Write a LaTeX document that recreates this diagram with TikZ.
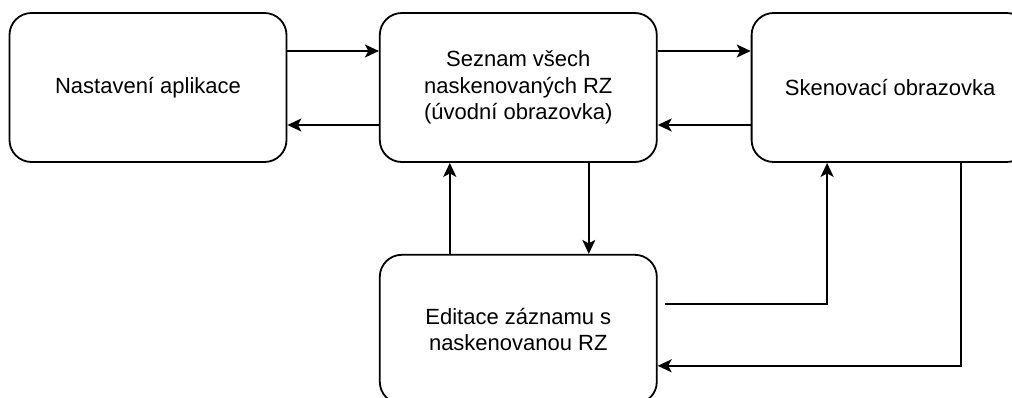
\documentclass[tikz,border=0pt]{standalone}
\usepackage{fontspec}
\setmainfont{Liberation Sans}
\usepackage{xcolor}
\usepackage{tikz}
\usetikzlibrary{arrows.meta,positioning}
\definecolor{Ink}{HTML}{000000}
\tikzset{
  screen/.style={rounded corners=22pt,draw=Ink,fill=white,line width=1.8pt,minimum width=277pt,minimum height=149pt,inner sep=0pt,align=center,font=\fontsize{22}{26.4}\selectfont},
  arrow/.style={-{Stealth[length=14pt,width=13pt,inset=3.5pt]},line width=1.8pt,draw=Ink}
}

\begin{document}
\begin{tikzpicture}[x=1pt,y=1pt,node distance=91pt]
  \clip (0,0) rectangle (1012,-397);
  \useasboundingbox (0,0) rectangle (1012,-397);
  \node[screen] (nast) at (148,-87.5) {Nastavení aplikace};
  \node[screen,right=91.5pt of nast] (sez) {Seznam všech\\naskenovaných RZ\\(úvodní obrazovka)};
  \node[screen,right=93pt of sez] (sken) {Skenovací obrazovka};
  \node[screen,below=91pt of sez] (edit) {Editace záznamu s\\naskenovanou RZ};
  % horni rada
  \draw[arrow] ([yshift=36.5pt]nast.east) -- ([yshift=36.5pt]sez.west);
  \draw[arrow] ([yshift=-37.5pt]sez.west) -- ([yshift=-37.5pt]nast.east);
  \draw[arrow] ([yshift=36.5pt]sez.east) -- ([yshift=36.5pt]sken.west);
  \draw[arrow] ([yshift=-37.5pt]sken.west) -- ([yshift=-37.5pt]sez.east);
  % seznam <-> editace
  \draw[arrow] ([xshift=70.5pt]sez.south) -- ([xshift=70.5pt]edit.north);
  \draw[arrow] ([xshift=-68.5pt]edit.north) -- ([xshift=-68.5pt]sez.south);
  % editace <-> skenovani
  \draw[arrow] ([xshift=7pt,yshift=25.5pt]edit.east) -| ([xshift=-63pt]sken.south);
  \draw[arrow] ([xshift=71pt]sken.south) |- ([yshift=-36.5pt]edit.east);
\end{tikzpicture}
\end{document}
